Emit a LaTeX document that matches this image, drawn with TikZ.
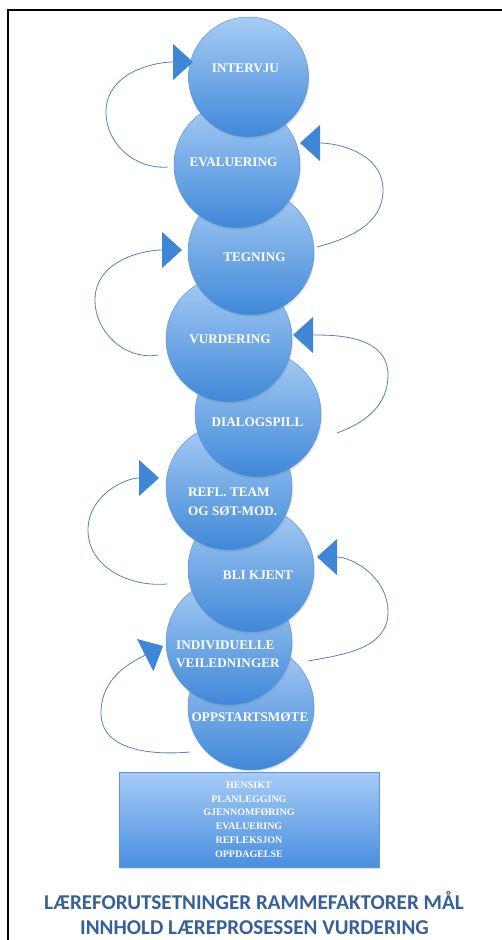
\documentclass[tikz,border=0pt]{standalone}
\usepackage{fontspec}
\setmainfont{Liberation Serif}
\newfontfamily\titlefont{Carlito}
\usetikzlibrary{arrows.meta,shadows}
\definecolor{ctop}{HTML}{A8CCF4}
\definecolor{cbot}{HTML}{3F88D8}
\definecolor{cedge}{HTML}{5E96D4}
\definecolor{btop}{HTML}{A6CBF6}
\definecolor{bbot}{HTML}{4A8FE0}
\definecolor{arrowc}{HTML}{3D87D6}
\definecolor{linec}{HTML}{4D84C2}
\definecolor{titlec}{HTML}{36609A}
\begin{document}
\begin{tikzpicture}[x=1pt,y=-1pt,
  ball/.style={circle, minimum size=126pt, inner sep=0pt, top color=ctop, bottom color=cbot,
    draw=cedge, line width=0.5pt,
    drop shadow={opacity=0.2, shadow xshift=1pt, shadow yshift=-2pt}},
  lbl/.style={text=white, font=\bfseries\fontsize{13.2}{15}\selectfont, inner sep=0pt},
  loopline/.style={draw=linec, line width=0.8pt,
    -{Triangle[length=20pt,width=36pt,color=arrowc]}},
  titletext/.style={font=\titlefont\bfseries\fontsize{21.1}{24}\selectfont, text=titlec, inner sep=0pt, anchor=base}
]
\useasboundingbox (0,0) rectangle (502,940);
\draw[line width=2pt] (8,940) -- (8,10) -- (502,10);

% circles, bottom to top
\node[ball] (oppstart) at (251,707) {};
\node[ball] (indiv) at (229,642) {};
\node[ball] (blikjent) at (251,569) {};
\node[ball] (refl) at (229,487) {};
\node[ball] (dialog) at (258,414) {};
\node[ball] (vurd) at (229,339) {};
\node[ball] (tegning) at (251,252) {};
\node[ball] (eval) at (237,165) {};
\node[ball, minimum size=120pt] (intervju) at (248.5,77) {};

% labels
\node[lbl, anchor=base] (tintervju) at (245.5,72.5) {INTERVJU};
\node[lbl, anchor=base] (teval) at (233.5,166.5) {EVALUERING};
\node[lbl, anchor=base] (ttegning) at (254.5,261.5) {TEGNING};
\node[lbl, anchor=base] (tvurd) at (230,343.5) {VURDERING};
\node[lbl, anchor=base] (tdialog) at (257.5,426.5) {DIALOGSPILL};
\node[lbl, anchor=base west] (trefla) at (188,496.5) {REFL. TEAM};
\node[lbl, anchor=base west] (treflb) at (188,515.5) {OG SØT-MOD.};
\node[lbl, anchor=base] (tbli) at (258,579.5) {BLI KJENT};
\node[lbl, anchor=base west] (tindiva) at (176,649.5) {INDIVIDUELLE};
\node[lbl, anchor=base west] (tindivb) at (176,667.5) {VEILEDNINGER};
\node[lbl, anchor=base] (topp) at (250,721.5) {OPPSTARTSMØTE};

% loops
\coordinate (a1s) at (168,167); \coordinate (a1m) at (106,112); \coordinate (a1t) at (193,62);
\draw[loopline] (a1s) to[out=185,in=270] (a1m) to[out=90,in=180] (a1t);
\coordinate (a2s) at (317,247); \coordinate (a2m) at (383,190); \coordinate (a2t) at (300,143);
\draw[loopline] (a2s) to[out=15,in=270] (a2m) to[out=90,in=0] (a2t);
\coordinate (a3s) at (158,355); \coordinate (a3m) at (95,300); \coordinate (a3t) at (182,250);
\draw[loopline] (a3s) to[out=190,in=270] (a3m) to[out=90,in=180] (a3t);
\coordinate (a4s) at (337,433); \coordinate (a4m) at (388,375); \coordinate (a4t) at (293,335);
\draw[loopline] (a4s) to[out=20,in=270] (a4m) to[out=90,in=0] (a4t);
\coordinate (a5s) at (167,584); \coordinate (a5m) at (88,530); \coordinate (a5t) at (159,478);
\draw[loopline] (a5s) to[out=185,in=270] (a5m) to[out=90,in=180] (a5t);
\coordinate (a6s) at (308,661); \coordinate (a6m) at (388,612); \coordinate (a6t) at (317,557);
\draw[loopline] (a6s) to[out=10,in=270] (a6m) to[out=90,in=0] (a6t);
\coordinate (a7s) at (190,752); \coordinate (a7m) at (101,713); \coordinate (a7t) at (163,646);
\draw[loopline] (a7s) to[out=185,in=270] (a7m) to[out=90,in=207] (a7t);

% base box
\node[rectangle, minimum width=260pt, minimum height=95pt, top color=btop, bottom color=bbot,
  draw=cedge, line width=0.5pt, drop shadow={opacity=0.25, shadow xshift=1pt, shadow yshift=-2pt},
  text=white, align=center, font=\bfseries\fontsize{10}{13.8}\selectfont] (box) at (249,819.5)
  {HENSIKT\\PLANLEGGING\\GJENNOMFØRING\\EVALUERING\\REFLEKSJON\\OPPDAGELSE};

% title
\node[titletext] (title1) at (254,909.5) {LÆREFORUTSETNINGER RAMMEFAKTORER MÅL};
\node[titletext] (title2) at (254.5,934.5) {INNHOLD LÆREPROSESSEN VURDERING};
\end{tikzpicture}
\end{document}
